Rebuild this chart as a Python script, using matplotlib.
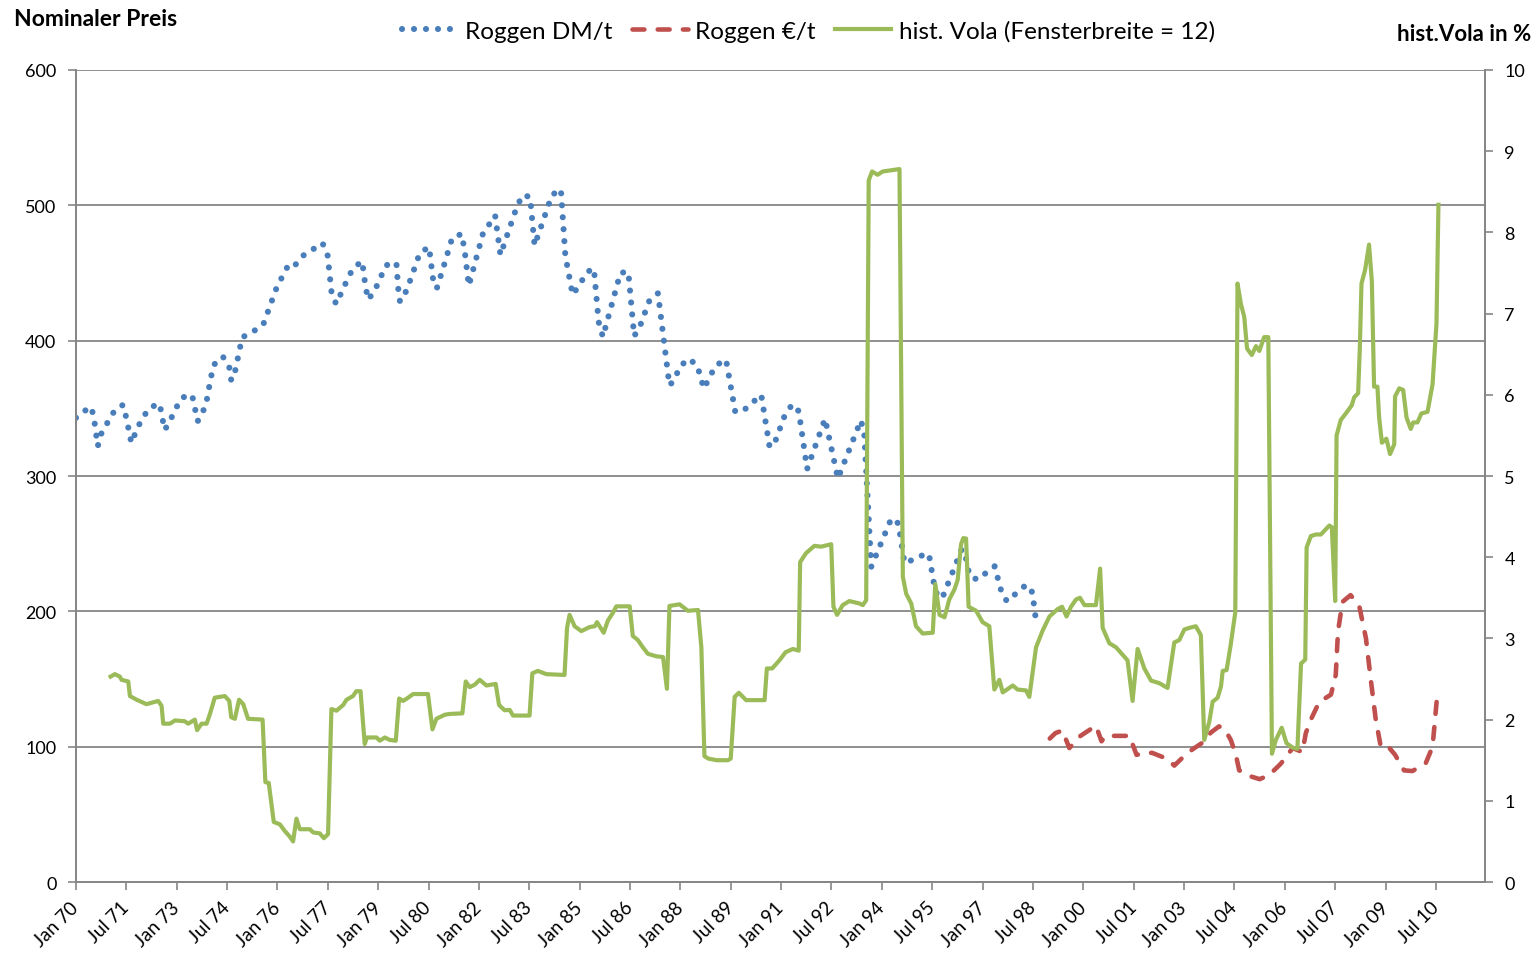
import matplotlib.pyplot as plt
from matplotlib.lines import Line2D

plt.rcParams['font.family'] = ['Lato', 'DejaVu Sans']

monate_dm = [0, 3, 5.5, 6.5, 7.8, 9, 11.3, 14, 16.8, 18, 19.8, 21.5, 23.5, 26.4, 29.9, 31.7,
             33.5, 35.4, 38, 41.5, 43.5, 44.6, 46.5, 48.2, 49.4, 52.5, 54.8, 55.5, 56.5, 59.4,
             63.2, 66.9, 71.8, 76.2, 78.4, 81, 84.5, 88.1, 89.9, 91.4, 93, 96.9, 99, 102.3,
             103.5, 104.5, 107, 110.8, 114.5, 115.2, 115.8, 118.2, 122.9, 126.2, 127.9, 129,
             131.8, 134.5, 137.9, 139, 140.4, 145.4, 149.8, 151.7, 157.5, 159.6, 162.3, 163.9,
             170.1, 173.3, 174.9, 177.5, 180.2, 182.5, 185.1, 186.8, 188.3, 194.6, 197.4, 199.5,
             201.7, 205, 208, 212.1, 214, 215.7, 219, 222, 224.4, 226.4, 228.6, 232.3, 235.6,
             238.3, 244.9, 247.9, 250, 253.3, 256, 258.3, 261.3, 267.7, 272.3, 280.5, 281.7,
             284.2, 291.4, 293.9, 296.1, 297.6, 300.9, 304.8, 307.1, 309.5, 316.5, 317.5, 319.3,
             322.1, 328.3, 330.8, 332.7, 339.6, 341.8, 343, 345.5]
preis_dm = [343, 348, 351, 342, 322, 331, 339.5, 349, 352.5, 343, 324.5, 333, 342, 350.5, 353.5, 334,
            340, 349, 358, 360, 340.5, 344, 353, 372.6, 382.4, 388.3, 380.4, 370.7, 373.6, 402.4,
            406.6, 411.7, 439.6, 457, 456, 462.6, 467.2, 472.1, 463.8, 434.5, 427.1, 444.7, 453.5, 458.7,
            439.4, 430.3, 438.1, 455.7, 457.7, 438.1, 428.9, 437.2, 464.8, 469.2, 440.8, 438.9,
            457.5, 476.3, 478.8, 465, 440.6, 478.8, 492.6, 463.3, 498.6, 507.6, 506.2, 470.3,
            507.6, 511.9, 462.7, 433.9, 442, 450.5, 453.4, 413.8, 402.8, 450.2, 450.8, 403.3,
            411.5, 430, 435, 366.9, 371.4, 380.7, 386.6, 381.8, 364.6, 372.8, 381.6, 386, 347.6,
            347.9, 360, 321.3, 326.1, 344.8, 353, 347.9, 305.2, 342.3, 298.2, 341.1, 331.8,
            232.9, 268.7, 265, 235.7, 236.7, 240.4, 242.6, 214.5, 209.4, 245.6, 245, 226.4,
            223.4, 233.3, 214, 207.4, 219.7, 214, 194.3, 195.3]

monate_eur = [348, 350, 352.5, 355, 359, 364.5, 366.5, 368, 371, 376.5, 379, 384.5, 390, 392.5,
              396, 399, 402.6, 405.6, 408.5, 410.5, 412.7, 414.5, 415.7, 419.9, 423, 426.4, 430.6,
              434.8, 438.3, 439.5, 441.3, 444.3, 448.5, 450.2, 451, 452.6, 455.5, 458.6, 461,
              462.7, 464.5, 466.3, 468.7, 471.4, 474.6, 477.6, 482.4, 484.8, 486.5]
preis_eur = [106, 110, 112, 99, 108, 115.5, 104, 108, 108, 108, 94, 95.5, 91, 86,
             93, 98, 103, 110.5, 115, 113, 105, 94, 82.5, 78, 76, 79, 87.5,
             99, 96, 110, 120, 133, 138.5, 153, 185, 207, 212, 204, 180,
             150, 120, 100, 100.7, 94, 82.5, 82, 88, 100, 139]

monate_vola = [12.4, 13.9, 15.7, 16.3, 18.7, 19.3, 21.7, 25.2, 29.4, 30.6, 31.2, 33.6, 35.4, 38.9,
               40.1, 42.5, 43.3, 44.9, 46.7, 47.9, 49.6, 53.2, 54.8, 55.5, 56.8, 58.3, 59.8, 61.5,
               66.7, 67.1, 67.7, 68.9, 70.7, 72.9, 74.6, 76.4, 77.6, 78.8, 80, 83.6, 84.8, 87.1,
               88.6, 90.1, 91.3, 93.1, 95.5, 96.7, 99, 100.2, 101.7, 103.2, 104, 107.4, 108.6,
               110.4, 112.1, 114.3, 115.5, 116.9, 118.7, 120.5, 125.8, 127.4, 128.8, 131.8, 133.6,
               138.1, 139.3, 140.7, 142.5, 144.3, 146.7, 150, 151.2, 153.2, 155, 156.2, 162.1,
               163.1, 165.1, 168.1, 174.6, 175.5, 176.4, 178.2, 180.6, 183.6, 185.4, 186.2, 188.6,
               190.1, 191.9, 193.1, 197.9, 199, 200.8, 202.6, 204.4, 207.4, 209.8, 211.2, 212.1,
               215.7, 218.7, 222.3, 223.5, 224.6, 226, 229, 233, 234, 235.4, 236.9, 239.5, 246.1,
               246.9, 248.8, 251.4, 253.6, 256.2, 258.3, 258.8, 260.9, 263.9, 266.3, 269.9, 270.7,
               272, 274, 276.4, 280, 281.2, 282.4, 283.3, 284.5, 286.5, 288.3, 294.3, 295.5, 296.7,
               298.5, 300.2, 302.6, 306.2, 307.1, 308.6, 310.4, 312.1, 313.9, 315.1, 316.3, 317.1,
               318.1, 319, 321.7, 324, 326.4, 328.2, 330, 331.2, 334.8, 336.5, 339.5, 340.7, 343.1,
               345.5, 347.9, 350.8, 352.4, 354, 355.6, 357.4, 358.8, 360.4, 364.5, 366, 366.9,
               369.3, 371.7, 374, 375.8, 377.6, 379.4, 381.8, 384.2, 387.1, 390.1, 392.5, 394.3,
               396.1, 397.9, 400.2, 402, 403.2, 405, 406.2, 408, 409.2, 409.8, 411.2, 412.7, 414.3,
               415.1, 416.3, 417.5, 418.5, 420.2, 421.7, 422.9, 424.6, 426.1, 427.4, 428.8, 430.9,
               432.6, 434.8, 436.5, 437.8, 439.3, 439.8, 441.3, 443.1, 444.9, 447.9, 448.8, 450,
               450.5, 452, 453.8, 455.9, 456.8, 458.2, 458.8, 459.4, 460.7, 462.1, 463.1, 463.9,
               465.1, 465.7, 466.7, 468.3, 469.6, 471.1, 471.4, 472.9, 474.3, 475.5, 477, 477.9,
               479.4, 480.8, 483, 484.8, 486.2, 486.9]
vola = [2.53, 2.56, 2.53, 2.49, 2.47, 2.29, 2.245, 2.19, 2.23, 2.17, 1.95, 1.95, 1.99, 1.98,
        1.95, 2.0, 1.87, 1.95, 1.95, 2.07, 2.27, 2.29, 2.23, 2.03, 2.01, 2.245, 2.19, 2.01,
        2.0, 1.68, 1.23, 1.22, 0.74, 0.71, 0.63, 0.56, 0.50, 0.78, 0.65, 0.65, 0.61, 0.60,
        0.54, 0.59, 2.13, 2.11, 2.18, 2.245, 2.29, 2.35, 2.35, 1.70, 1.78, 1.78, 1.74,
        1.78, 1.75, 1.74, 2.26, 2.23, 2.27, 2.315, 2.315, 1.88, 2.01, 2.06, 2.07,
        2.077, 2.47, 2.40, 2.43, 2.49, 2.42, 2.44, 2.18, 2.115, 2.12, 2.05, 2.05,
        2.57, 2.6, 2.56, 2.55, 3.13, 3.29, 3.15, 3.09, 3.14, 3.15, 3.2, 3.07,
        3.22, 3.315, 3.395, 3.395, 3.03, 2.98, 2.89, 2.81, 2.78, 2.77, 2.38, 3.40,
        3.42, 3.34, 3.35, 2.89, 1.55, 1.52, 1.50, 1.5, 1.52, 2.28, 2.33, 2.24, 2.24,
        2.63, 2.63, 2.73, 2.83, 2.87, 2.85, 3.94, 4.05, 4.14, 4.13, 4.16, 3.39,
        3.29, 3.41, 3.46, 3.43, 3.41, 3.47, 8.64, 8.75, 8.71, 8.75, 8.78, 3.76, 3.55,
        3.43, 3.15, 3.06, 3.07, 3.67, 3.29, 3.26, 3.48, 3.6, 3.72, 4.16, 4.235,
        4.23, 3.39, 3.34, 3.2, 3.15, 2.37, 2.49, 2.335, 2.42, 2.37, 2.36, 2.28, 2.89,
        3.10, 3.27, 3.36, 3.39, 3.27, 3.39, 3.48, 3.5, 3.41, 3.41, 3.86, 3.13,
        2.94, 2.89, 2.80, 2.73, 2.23, 2.87, 2.63, 2.48, 2.45, 2.39, 2.95, 2.98,
        3.11, 3.13, 3.15, 3.04, 1.75, 1.97, 2.22, 2.27, 2.41, 2.60, 2.61, 2.93, 3.32,
        7.37, 7.12, 6.96, 6.57, 6.49, 6.6, 6.54, 6.71, 6.71, 1.58, 1.75, 1.90,
        1.71, 1.655, 1.64, 2.69, 2.74, 4.12, 4.26, 4.28, 4.28, 4.39, 4.37, 3.46,
        5.5, 5.69, 5.77, 5.87, 5.97, 6.02, 6.57, 7.37, 7.54, 7.85, 7.40, 6.10,
        6.10, 5.72, 5.41, 5.46, 5.27, 5.39, 5.98, 6.08, 6.06, 5.72, 5.58, 5.66,
        5.66, 5.77, 5.79, 6.13, 6.88, 8.34]

tick_labels = ["Jan 70", "Jul 71", "Jan 73", "Jul 74", "Jan 76", "Jul 77", "Jan 79", "Jul 80",
               "Jan 82", "Jul 83", "Jan 85", "Jul 86", "Jan 88", "Jul 89", "Jan 91", "Jul 92",
               "Jan 94", "Jul 95", "Jan 97", "Jul 98", "Jan 00", "Jul 01", "Jan 03", "Jul 04",
               "Jan 06", "Jul 07", "Jan 09", "Jul 10"]

blau = '#4A7EBB'
rot = '#C0504D'
gruen = '#9BBB59'
grau = '#868686'

punkt = (0, (0.01, 1.95))
strich = (0, (2.6, 2.9))

fig = plt.figure(figsize=(15.37, 9.62), dpi=100)
ax = fig.add_axes([0.0494, 0.0821, 0.9167, 0.8441])
ax2 = ax.twinx()

ax.plot(monate_dm, preis_dm, color=blau, lw=4.4, linestyle=punkt,
        dash_capstyle='round', zorder=3)
ax.plot(monate_eur, preis_eur, color=rot, lw=3.3, linestyle=strich,
        dash_capstyle='round', zorder=3)
ax2.plot(monate_vola, vola, color=gruen, lw=3.0, solid_joinstyle='round', zorder=4)

ax.set_xlim(0, 503.5)
ax.set_ylim(0, 600)
ax2.set_ylim(0, 10)
ax.set_yticks(range(0, 601, 100))
ax2.set_yticks(range(0, 11))
ax.set_xticks(range(0, 487, 18))
ax.set_xticklabels(tick_labels, rotation=45, ha='right', rotation_mode='anchor', va='center')
ax.grid(axis='y', color=grau, lw=1.3)
ax.set_axisbelow(True)

for a in (ax, ax2):
    a.spines['top'].set_visible(False)
    for s in ('left', 'right', 'bottom'):
        a.spines[s].set_color(grau)
        a.spines[s].set_linewidth(1.3)
    a.tick_params(colors=grau, labelcolor='black', length=6, width=1.2, labelsize=13)
ax.tick_params(axis='x', pad=10, labelsize=13.5)
ax.tick_params(axis='y', pad=8)
ax2.tick_params(axis='y', pad=8)

fig.text(0.009, 0.980, 'Nominaler Preis', fontsize=16.5, fontweight='bold', va='center', ha='left')
fig.text(0.996, 0.964, 'hist.Vola in %', fontsize=16, fontweight='bold', va='center', ha='right')

handles = [
    Line2D([], [], color=blau, lw=4.4, linestyle=punkt, dash_capstyle='round'),
    Line2D([], [], color=rot, lw=3.3, linestyle=strich, dash_capstyle='round'),
    Line2D([], [], color=gruen, lw=3.0),
]
fig.legend(handles, ['Roggen DM/t', 'Roggen €/t', 'hist. Vola (Fensterbreite = 12)'],
           loc='center', bbox_to_anchor=(0.526, 0.967), ncol=3, frameon=False,
           fontsize=17.5, handlelength=2.3, handletextpad=0.3, columnspacing=0.8)

fig.savefig('out.png', dpi=100)
